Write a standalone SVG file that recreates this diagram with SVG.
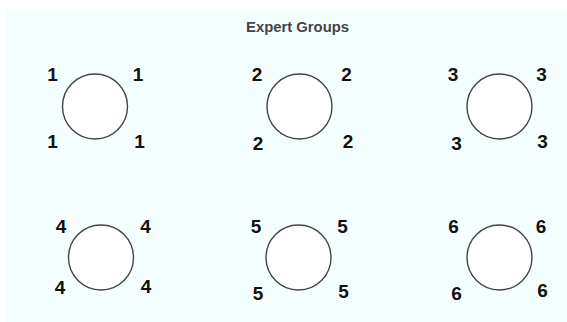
<svg xmlns="http://www.w3.org/2000/svg" width="567" height="322" viewBox="0 0 567 322">
<style>
.c{fill:#ffffff;stroke:#444444;stroke-width:1.4}
.n{font-family:"Liberation Sans",Arial,sans-serif;font-weight:bold;font-size:19px;fill:#111111;text-anchor:middle}
.t{font-family:"Liberation Sans",Arial,sans-serif;font-weight:bold;font-size:14px;fill:#444444;text-anchor:middle}
</style>
<rect x="0" y="0" width="567" height="322" fill="#ffffff"/>
<rect x="6" y="9" width="561" height="313" fill="#f4fefe"/>
<text class="t" x="297.5" y="32" textLength="103" lengthAdjust="spacingAndGlyphs">Expert Groups</text>
<g id="group1">
<circle class="c" cx="95" cy="106.5" r="32.5"/>
<text class="n" x="52.5" y="81">1</text><text class="n" x="138" y="81">1</text>
<text class="n" x="52.5" y="148">1</text><text class="n" x="139.5" y="148">1</text>
</g>
<g id="group2">
<circle class="c" cx="299.5" cy="106.5" r="32.5"/>
<text class="n" x="257" y="81">2</text><text class="n" x="346.5" y="81">2</text>
<text class="n" x="258" y="150">2</text><text class="n" x="348" y="148">2</text>
</g>
<g id="group3">
<circle class="c" cx="499.5" cy="106.5" r="32.5"/>
<text class="n" x="453" y="81">3</text><text class="n" x="541.5" y="81">3</text>
<text class="n" x="456.5" y="150">3</text><text class="n" x="542.5" y="148">3</text>
</g>
<g id="group4">
<circle class="c" cx="101" cy="257.5" r="32.5"/>
<text class="n" x="61" y="233">4</text><text class="n" x="145.5" y="233">4</text>
<text class="n" x="60" y="294">4</text><text class="n" x="146" y="293">4</text>
</g>
<g id="group5">
<circle class="c" cx="298.5" cy="257.5" r="32.5"/>
<text class="n" x="256" y="233">5</text><text class="n" x="342.5" y="233">5</text>
<text class="n" x="258" y="300">5</text><text class="n" x="343.5" y="298">5</text>
</g>
<g id="group6">
<circle class="c" cx="499.5" cy="257.5" r="32.5"/>
<text class="n" x="453.5" y="233">6</text><text class="n" x="541" y="233">6</text>
<text class="n" x="456.5" y="300">6</text><text class="n" x="542.5" y="297">6</text>
</g>
<g id="connectors"/>
</svg>
